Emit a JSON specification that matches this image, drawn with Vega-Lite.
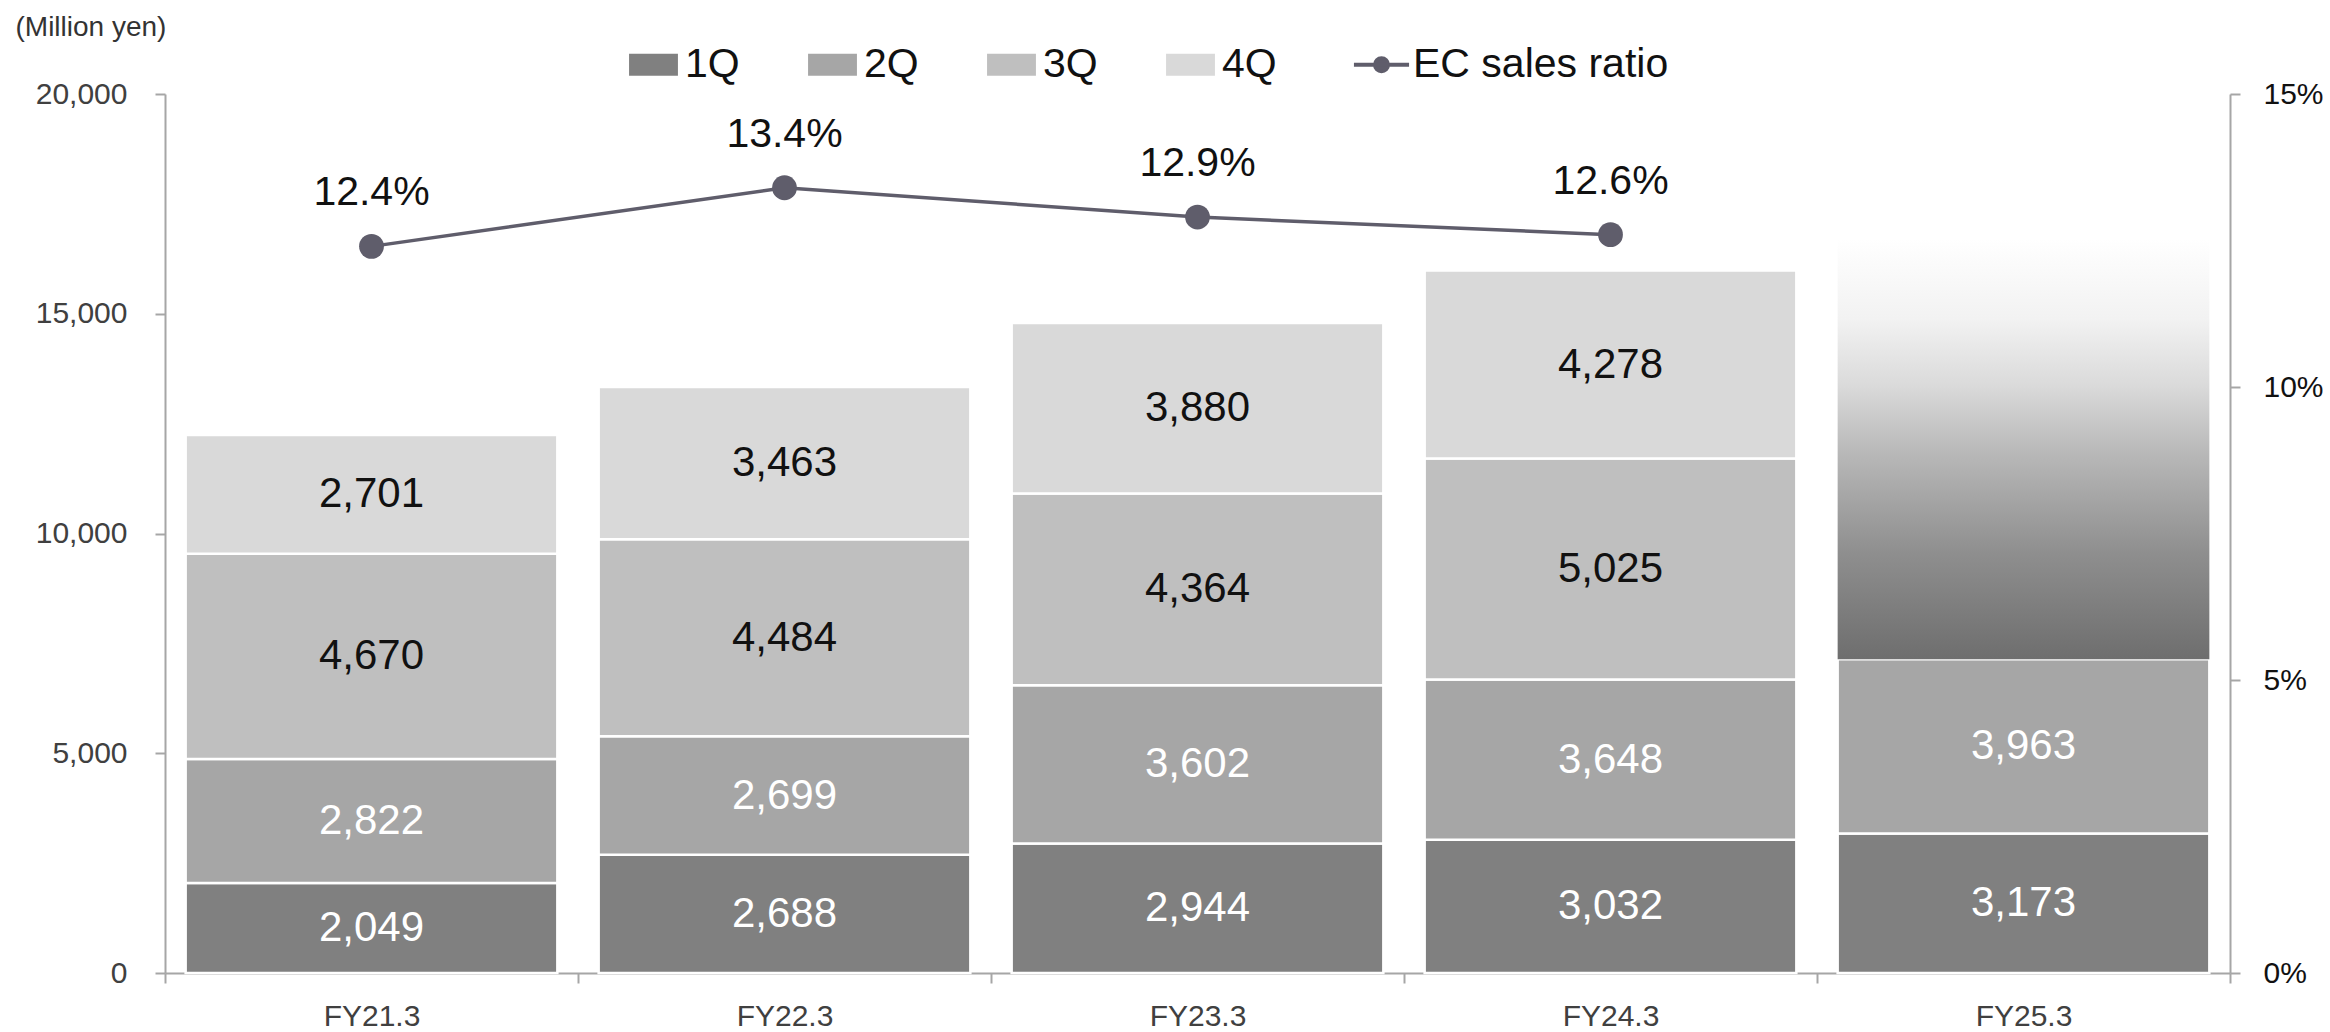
{
  "$schema": "https://vega.github.io/schema/vega-lite/v6.json",
  "width": 2065,
  "height": 879,
  "autosize": {"type": "none"},
  "padding": {"left": 165, "top": 94, "right": 100, "bottom": 59},
  "background": "white",
  "config": {
    "font": "Liberation Sans",
    "view": {"stroke": null},
    "axis": {"domainColor": "#a6a6a6", "tickColor": "#a6a6a6", "domainWidth": 2, "tickWidth": 2, "grid": false, "labelFont": "Liberation Sans"}
  },
  "datasets": {
    "sales": [
      {"fy": "FY21.3", "q": "1Q", "value": 2049},
      {"fy": "FY21.3", "q": "2Q", "value": 2822},
      {"fy": "FY21.3", "q": "3Q", "value": 4670},
      {"fy": "FY21.3", "q": "4Q", "value": 2701},
      {"fy": "FY22.3", "q": "1Q", "value": 2688},
      {"fy": "FY22.3", "q": "2Q", "value": 2699},
      {"fy": "FY22.3", "q": "3Q", "value": 4484},
      {"fy": "FY22.3", "q": "4Q", "value": 3463},
      {"fy": "FY23.3", "q": "1Q", "value": 2944},
      {"fy": "FY23.3", "q": "2Q", "value": 3602},
      {"fy": "FY23.3", "q": "3Q", "value": 4364},
      {"fy": "FY23.3", "q": "4Q", "value": 3880},
      {"fy": "FY24.3", "q": "1Q", "value": 3032},
      {"fy": "FY24.3", "q": "2Q", "value": 3648},
      {"fy": "FY24.3", "q": "3Q", "value": 5025},
      {"fy": "FY24.3", "q": "4Q", "value": 4278},
      {"fy": "FY25.3", "q": "1Q", "value": 3173},
      {"fy": "FY25.3", "q": "2Q", "value": 3963}
    ],
    "ratio": [
      {"fy": "FY21.3", "ratio": 0.124},
      {"fy": "FY22.3", "ratio": 0.134},
      {"fy": "FY23.3", "ratio": 0.129},
      {"fy": "FY24.3", "ratio": 0.126}
    ],
    "plan": [
      {"fy": "FY25.3", "start": 7136, "end": 16700}
    ]
  },
  "layer": [
    {
      "layer": [
        {
          "data": {"name": "sales"},
          "mark": {"type": "bar", "stroke": "white", "strokeWidth": 2.5, "width": {"band": 0.9}},
          "encoding": {
            "x": {
              "field": "fy", "type": "nominal",
              "scale": {"paddingInner": 0, "paddingOuter": 0},
              "axis": {"title": null, "labelAngle": 0, "labelFontSize": 30, "labelColor": "#404040", "tickBand": "extent", "tickSize": 10, "labelPadding": 18}
            },
            "y": {
              "field": "value", "type": "quantitative", "stack": "zero",
              "scale": {"domain": [0, 20000]},
              "axis": {
                "title": "(Million yen)", "values": [0, 5000, 10000, 15000, 20000], "format": ",d",
                "labelFontSize": 30, "labelColor": "#404040", "tickSize": 10, "labelPadding": 28,
                "titleAngle": 0, "titleX": -150, "titleY": -67, "titleAlign": "left", "titleBaseline": "middle",
                "titleFontSize": 28, "titleFontWeight": "normal", "titleColor": "#333333", "titleFont": "Liberation Sans"
              }
            },
            "color": {
              "field": "q", "type": "nominal",
              "scale": {"domain": ["1Q", "2Q", "3Q", "4Q", "EC sales ratio"], "range": ["#808080", "#a6a6a6", "#bfbfbf", "#d9d9d9", "#5f5d6b"]},
              "legend": {
                "title": null, "orient": "none", "legendX": 468, "legendY": -50, "direction": "horizontal", "columns": 5,
                "symbolSize": 2704, "labelFontSize": 41, "labelColor": "#111111", "labelOffset": 11, "columnPadding": 68, "padding": 0,
                "labelFont": "Liberation Sans", "labelLimit": 600,
                "encoding": {
                  "symbols": {
                    "shape": {"value": {"expr": "datum.value === 'EC sales ratio' ? 'M-1.06,0L1.06,0M-0.25,0A0.25,0.25,0,1,0,0.25,0A0.25,0.25,0,1,0,-0.25,0Z' : 'M-0.94,-0.42L0.94,-0.42L0.94,0.42L-0.94,0.42Z'"}},
                    "stroke": {"value": {"expr": "datum.value === 'EC sales ratio' ? '#5f5d6b' : 'transparent'"}},
                    "strokeWidth": {"value": {"expr": "datum.value === 'EC sales ratio' ? 4 : 0"}}
                  }
                }
              }
            },
            "order": {"field": "q"}
          }
        },
        {
          "data": {"name": "plan"},
          "mark": {
            "type": "bar", "width": {"band": 0.9},
            "color": {
              "gradient": "linear", "x1": 0, "y1": 1, "x2": 0, "y2": 0,
              "stops": [
                {"offset": 0, "color": "#6e6e6e"},
                {"offset": 0.25, "color": "#8e8e8e"},
                {"offset": 0.49, "color": "#b8b8b8"},
                {"offset": 0.65, "color": "#dadada"},
                {"offset": 0.81, "color": "#f2f2f2"},
                {"offset": 1, "color": "#ffffff"}
              ]
            }
          },
          "encoding": {
            "x": {"field": "fy", "type": "nominal"},
            "y": {"field": "start", "type": "quantitative"},
            "y2": {"field": "end"}
          }
        },
        {
          "data": {"name": "sales"},
          "mark": {"type": "text", "fontSize": 42, "baseline": "middle", "font": "Liberation Sans"},
          "encoding": {
            "x": {"field": "fy", "type": "nominal"},
            "y": {"field": "value", "type": "quantitative", "stack": "zero", "bandPosition": 0.5},
            "detail": {"field": "q"},
            "order": {"field": "q"},
            "text": {"field": "value", "type": "quantitative", "format": ","},
            "color": {"condition": {"test": "datum.q === '1Q' || datum.q === '2Q'", "value": "white"}, "value": "#111111"}
          }
        }
      ]
    },
    {
      "data": {"name": "ratio"},
      "encoding": {
        "x": {"field": "fy", "type": "nominal"},
        "y": {
          "field": "ratio", "type": "quantitative",
          "scale": {"domain": [0, 0.15]},
          "axis": {"orient": "right", "title": null, "values": [0, 0.05, 0.1, 0.15], "format": ".0%", "labelFontSize": 30, "labelColor": "#111111", "tickSize": 10, "labelPadding": 23}
        }
      },
      "layer": [
        {"mark": {"type": "line", "color": "#5f5d6b", "strokeWidth": 3.5}},
        {"mark": {"type": "point", "filled": true, "size": 615, "color": "#5f5d6b", "opacity": 1}},
        {
          "mark": {"type": "text", "fontSize": 41, "dy": -53, "baseline": "middle", "color": "#111111", "font": "Liberation Sans"},
          "encoding": {"text": {"field": "ratio", "type": "quantitative", "format": ".1%"}}
        }
      ]
    }
  ],
  "resolve": {"scale": {"y": "independent"}}
}
